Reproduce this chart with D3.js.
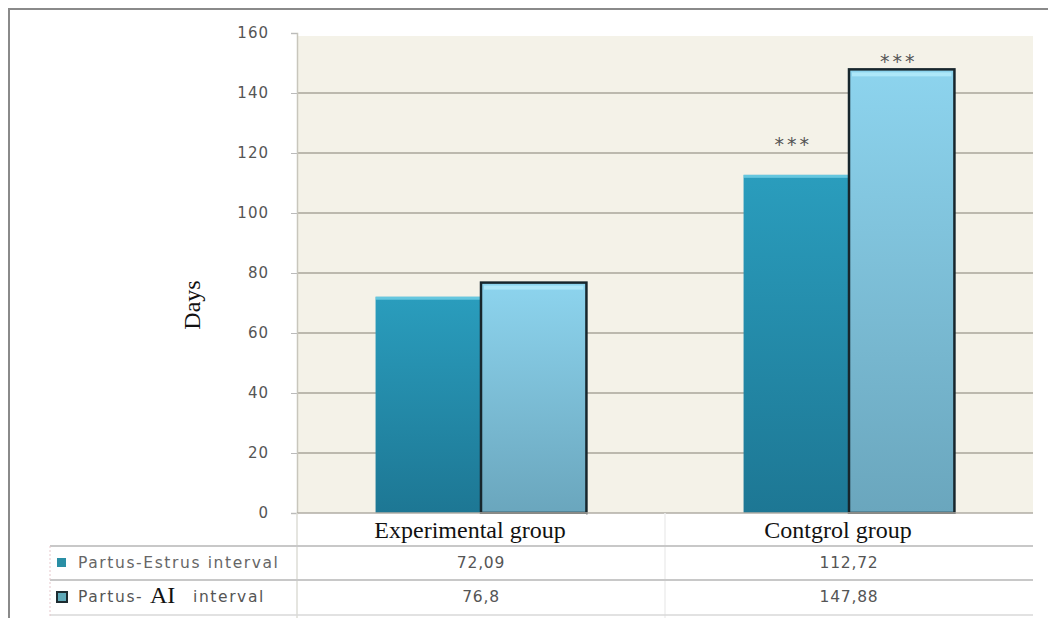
<!DOCTYPE html>
<html><head><meta charset="utf-8">
<script src="https://cdn.jsdelivr.net/npm/d3@7"></script>
<style>body{margin:0;background:#fff}svg{display:block}</style>
</head><body>
<svg id="c" width="1048" height="618"></svg>
<script>
const categories = ["Experimental group", "Contgrol group"];
const seriesNames = ["Partus-Estrus interval", "Partus-AI interval"];
const partusEstrus = [72.09, 112.72];
const partusAI = [76.8, 147.88];
const valueLabels = [["72,09", "112,72"], ["76,8", "147,88"]];
const significance = [["", "***"], ["", "***"]];
const yTicks = [0, 20, 40, 60, 80, 100, 120, 140, 160];

const series = [partusEstrus, partusAI];
const svg = d3.select("#c");
const W = 1048, H = 618;
const L = 297, R = 1033, T = 33, B = 513;
const sans = "'DejaVu Sans', sans-serif";

// outer frame
svg.append("line").attr("x1", 8).attr("x2", W).attr("y1", 9).attr("y2", 9).attr("stroke", "#8a8a8a").attr("stroke-width", 2);
svg.append("line").attr("x1", 9).attr("x2", 9).attr("y1", 9).attr("y2", H).attr("stroke", "#8a8a8a").attr("stroke-width", 2);

const y = d3.scaleLinear().domain([0, 160]).range([B, T]);
const x0 = d3.scaleBand().domain(categories).range([L, R]).paddingInner(0.427).paddingOuter(0.2135);
const x1 = d3.scaleBand().domain([0, 1]).range([0, x0.bandwidth()]).padding(0);

// plot background
svg.append("rect").attr("x", L).attr("y", y(160) + 3).attr("width", R - L).attr("height", B - y(160) - 3).attr("fill", "#f4f2e8");

// gridlines
svg.append("g").selectAll("line").data(yTicks.filter(d => d > 0 && d < 160)).join("line")
  .attr("x1", L).attr("x2", R).attr("y1", d => y(d)).attr("y2", d => y(d))
  .attr("stroke", "#aaa69b").attr("stroke-width", 1.5);

// y axis
const yAxis = d3.axisLeft(y).tickValues(yTicks).tickSize(6).tickPadding(22).tickFormat(d3.format("d"));
const gy = svg.append("g").attr("transform", `translate(${L},0)`).call(yAxis);
gy.select(".domain").attr("stroke", "#c8c6bc").attr("stroke-width", 1.5);
gy.selectAll(".tick line").attr("stroke", "#bbb");
gy.selectAll(".tick text").attr("font-family", sans).attr("font-size", 15).attr("letter-spacing", 1).attr("fill", "#555");

// gradients
const defs = svg.append("defs");
const g1 = defs.append("linearGradient").attr("id", "gDark").attr("x1", 0).attr("x2", 0).attr("y1", 0).attr("y2", 1);
g1.append("stop").attr("offset", 0).attr("stop-color", "#2a9dbd");
g1.append("stop").attr("offset", 1).attr("stop-color", "#1d7794");
const g2 = defs.append("linearGradient").attr("id", "gLight").attr("x1", 0).attr("x2", 0).attr("y1", 0).attr("y2", 1);
g2.append("stop").attr("offset", 0).attr("stop-color", "#8dd4ee");
g2.append("stop").attr("offset", 1).attr("stop-color", "#6aa6bd");
const fills = ["url(#gDark)", "url(#gLight)"];

// bars
categories.forEach((cat, ci) => {
  series.forEach((s, si) => {
    const bx = x0(cat) + x1(si), bw = x1.bandwidth(), by = y(s[ci]);
    svg.append("rect").attr("x", bx).attr("y", by).attr("width", bw).attr("height", B - by)
      .attr("fill", fills[si])
      .attr("stroke", si === 1 ? "#17262c" : "none").attr("stroke-width", si === 1 ? 2.5 : 0);
    if (si === 0) {
      svg.append("rect").attr("x", bx).attr("y", by).attr("width", bw).attr("height", 3).attr("fill", "#8ee2f5").attr("opacity", 0.6);
    } else {
      svg.append("rect").attr("x", bx + 3).attr("y", by + 3).attr("width", bw - 6).attr("height", 4).attr("fill", "#b5ecfb").attr("opacity", 0.8);
    }
    const sig = significance[si][ci];
    if (sig) {
      svg.append("text").attr("x", bx + bw / 2 - 3).attr("y", by - (si === 0 ? 24 : 1))
        .attr("text-anchor", "middle").attr("font-family", sans)
        .attr("font-size", 19).attr("letter-spacing", 3).attr("fill", "#555").text(sig);
    }
  });
});

// zero line
svg.append("line").attr("x1", L).attr("x2", R).attr("y1", B).attr("y2", B).attr("stroke", "#b0ada4").attr("stroke-width", 1.5);

// data table
const rowTop = [546, 580], rowH = 34, TL = 50;
svg.append("line").attr("x1", L).attr("x2", L).attr("y1", B).attr("y2", H).attr("stroke", "#dcdcd6").attr("stroke-width", 1.5);
svg.append("line").attr("x1", (L + R) / 2).attr("x2", (L + R) / 2).attr("y1", B).attr("y2", H).attr("stroke", "#eeeeee").attr("stroke-width", 1.5);

// category labels (white boxes)
const catBox = [[356, 586], [745, 1000]];
categories.forEach((cat, ci) => {
  svg.append("rect").attr("x", catBox[ci][0]).attr("y", B + 1).attr("width", catBox[ci][1] - catBox[ci][0]).attr("height", 31).attr("fill", "#fff");
  svg.append("text").attr("x", x0(cat) + x0.bandwidth() / 2 - 11).attr("y", 538)
    .attr("text-anchor", "middle").attr("font-family", "'Liberation Serif', serif").attr("font-size", 24).attr("fill", "#111").text(cat);
});

svg.append("line").attr("x1", TL).attr("x2", R).attr("y1", rowTop[0]).attr("y2", rowTop[0]).attr("stroke", "#c8c8c8").attr("stroke-width", 2);
svg.append("line").attr("x1", TL).attr("x2", R).attr("y1", rowTop[1]).attr("y2", rowTop[1]).attr("stroke", "#c8c8c8").attr("stroke-width", 2);
svg.append("line").attr("x1", TL).attr("x2", R).attr("y1", 615).attr("y2", 615).attr("stroke", "#d8d8d8").attr("stroke-width", 1.5);
svg.append("line").attr("x1", TL).attr("x2", TL).attr("y1", rowTop[0]).attr("y2", H).attr("stroke", "#e6c8cc").attr("stroke-width", 1).attr("stroke-dasharray", "2,2");

// legend keys + values
series.forEach((s, si) => {
  const cy = rowTop[si] + rowH / 2;
  if (si === 0) {
    svg.append("rect").attr("x", 57).attr("y", cy - 5).attr("width", 9).attr("height", 9).attr("fill", "#2a8fa5");
    svg.append("text").attr("x", 78).attr("y", cy + 5).attr("font-family", sans).attr("font-size", 15.5).attr("letter-spacing", 1.6).attr("fill", "#666").text(seriesNames[0]);
  } else {
    svg.append("rect").attr("x", 57).attr("y", cy - 5).attr("width", 10).attr("height", 10).attr("fill", "#5fa9b8").attr("stroke", "#1d2b30").attr("stroke-width", 2);
    svg.append("text").attr("x", 78).attr("y", cy + 5).attr("font-family", sans).attr("font-size", 15.5).attr("letter-spacing", 1.6).attr("fill", "#555").text("Partus-");
    svg.append("rect").attr("x", 148).attr("y", cy - 16).attr("width", 36).attr("height", 30).attr("fill", "#fff");
    svg.append("text").attr("x", 150).attr("y", cy + 6).attr("font-family", "'Liberation Serif', serif").attr("font-size", 24).attr("fill", "#111").text("AI");
    svg.append("text").attr("x", 193).attr("y", cy + 5).attr("font-family", sans).attr("font-size", 15.5).attr("letter-spacing", 1.6).attr("fill", "#555").text("interval");
  }
  categories.forEach((cat, ci) => {
    svg.append("text").attr("x", x0(cat) + x0.bandwidth() / 2).attr("y", cy + 5)
      .attr("text-anchor", "middle").attr("font-family", sans).attr("font-size", 15.5).attr("letter-spacing", 0.8).attr("fill", "#555").text(valueLabels[si][ci]);
  });
});

// y title
svg.append("text").attr("transform", "translate(200,305) rotate(-90)").attr("text-anchor", "middle")
  .attr("font-family", "'Liberation Serif', serif").attr("font-size", 24).attr("fill", "#111").text("Days");
</script>
</body></html>
